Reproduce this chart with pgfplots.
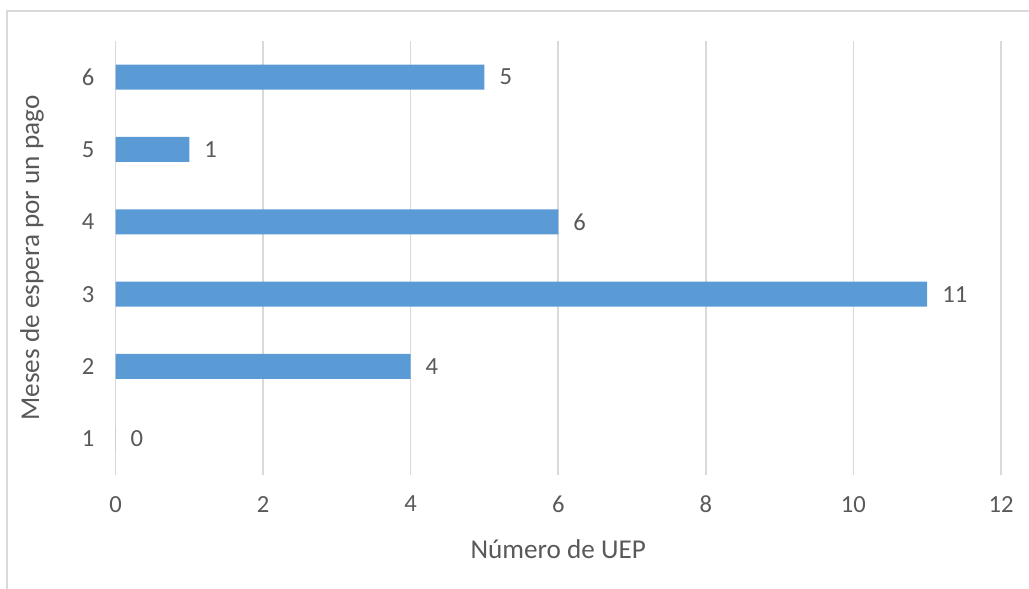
\documentclass[border=0pt]{standalone}
\usepackage{pgfplots}
\pgfplotsset{compat=1.18}
\usepackage{fontspec}
\setmainfont{Carlito}
\definecolor{barblue}{HTML}{5B9BD5}
\definecolor{gridgray}{HTML}{D9D9D9}
\definecolor{txtgray}{HTML}{595959}
\begin{document}
\begin{tikzpicture}
\useasboundingbox (0,0) rectangle (514.5pt,294.5pt);
\draw[gridgray, line width=0.8pt] (3.5pt,0) -- (3.5pt,289pt) -- (514.5pt,289pt);
\begin{axis}[
  at={(57.75pt,57pt)}, anchor=south west,
  scale only axis, width=442.75pt, height=217pt,
  xbar, bar width=12.5pt, bar shift=0pt,
  xmin=0, xmax=12, ymin=0.5, ymax=6.5,
  xtick={0,2,...,12}, ytick={1,2,3,4,5,6},
  xmajorgrids, major grid style={gridgray, line width=0.8pt},
  axis line style={draw=none},
  major tick length=0pt,
  /pgf/number format/assume math mode=true,
  tick label style={font=\fontsize{12.3}{14}\selectfont, color=txtgray},
  xticklabel style={yshift=-7pt},
  yticklabel style={xshift=-7pt},
  label style={font=\fontsize{13.6}{15}\selectfont, color=txtgray},
  xlabel={Número de UEP},
  ylabel={Meses de espera por un pago},
  xlabel style={at={(axis description cs:0.5,-0.1705)}, anchor=center},
  ylabel style={at={(axis description cs:-0.0943,0.5)}, anchor=center},
  nodes near coords,
  every node near coord/.append style={font=\fontsize{12.3}{14}\selectfont, color=txtgray, xshift=4pt},
]
\addplot[fill=barblue, draw=none] coordinates {(0,1) (4,2) (11,3) (6,4) (1,5) (5,6)};
\end{axis}
\end{tikzpicture}
\end{document}
